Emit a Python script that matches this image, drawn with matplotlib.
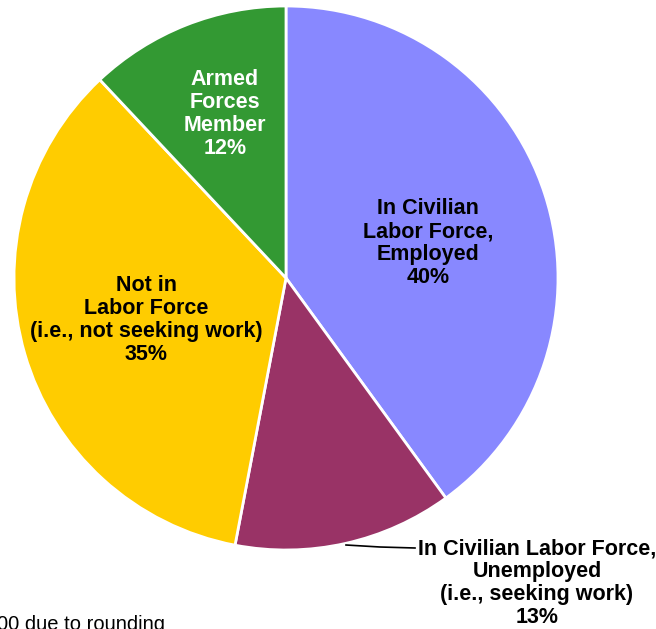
import matplotlib.pyplot as plt

# Labor force status shares (%)
categories = [
    "In Civilian\nLabor Force,\nEmployed",
    "In Civilian Labor Force,\nUnemployed\n(i.e., seeking work)",
    "Not in\nLabor Force\n(i.e., not seeking work)",
    "Armed\nForces\nMember",
]
shares = [40, 13, 35, 12]
colors = ["#8888FF", "#993366", "#FFCC00", "#339933"]
text_colors = ["black", "black", "black", "white"]

# label anchor positions in pixel coords (y measured from top)
label_pos = [(428, 243), (537, 583), (146, 320), (225, 114)]

W, H = 656, 629
fig = plt.figure(figsize=(W / 100, H / 100), dpi=100)
ax = fig.add_axes([0, 0, 1, 1])

cx, cy, r = 286, H - 278, 272
ax.pie(
    shares,
    colors=colors,
    startangle=90,
    counterclock=False,
    center=(cx, cy),
    radius=r,
    wedgeprops=dict(edgecolor="white", linewidth=2),
    frame=True,
)
ax.set_xlim(0, W)
ax.set_ylim(0, H)
ax.set_aspect("equal")
ax.axis("off")

font = dict(family="Liberation Sans", weight="bold", fontsize=15.5)
for lab, val, (x, y), tc in zip(categories, shares, label_pos, text_colors):
    ax.text(x, H - y, f"{lab}\n{val}%", ha="center", va="center",
            multialignment="center", color=tc, linespacing=1.12, **font)

# leader line for the small unemployed slice
ax.plot([346, 380, 415], [H - 545, H - 547, H - 548], color="black", lw=1.2)

fig.text(-3 / W, -1 / H, "00 due to rounding", ha="left", va="baseline",
         family="Liberation Sans", fontsize=14.5)

fig.savefig("out.png", dpi=100)
